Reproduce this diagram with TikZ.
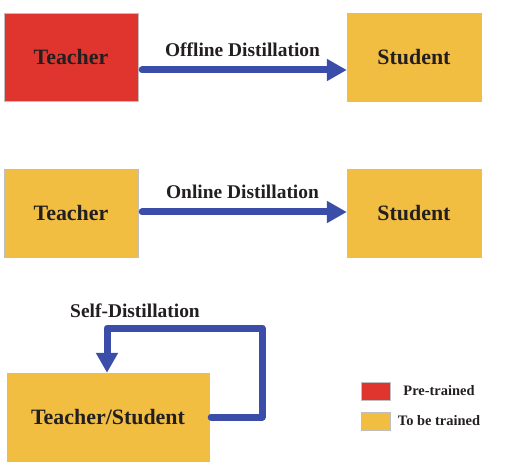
\documentclass[tikz,border=0pt]{standalone}
\usepackage{fontspec}
\setmainfont{Liberation Serif}
\usetikzlibrary{arrows.meta}
\definecolor{pretrained}{HTML}{E0352F}
\definecolor{tobetrained}{HTML}{F2BE42}
\definecolor{distblue}{HTML}{3A4EA9}
\definecolor{inktext}{HTML}{231F20}

\begin{document}
\begin{tikzpicture}[x=1bp,y=-1bp,
    model/.style={draw=black!25, minimum width=134bp, minimum height=88bp, inner sep=0pt,
        text=inktext, font=\fontsize{22}{24}\selectfont\bfseries},
    distarrow/.style={distblue, line width=7bp, line cap=round, line join=round,
        -{Triangle[length=20bp,width=21bp]}},
    distlabel/.style={text=inktext, font=\fontsize{19.5}{22}\selectfont\bfseries, inner sep=0pt},
    legendbox/.style={draw=black!25, minimum width=29bp, minimum height=18bp, inner sep=0pt},
    legendtext/.style={text=inktext, font=\fontsize{14.5}{16}\selectfont\bfseries, inner sep=0pt}]
\useasboundingbox (0,0) rectangle (506,469);
% Offline distillation
    \node[model, fill=pretrained] (t1) at (71,57) {Teacher};
    \node[model, fill=tobetrained] (s1) at (414,57) {Student};
    \draw[distarrow, shorten <=4bp] ([yshift=-13bp]t1.east) -- ([yshift=-13bp]s1.west)
        node[distlabel, midway, above=10bp] (l1) {Offline Distillation};
% Online distillation
    \node[model, fill=tobetrained] (t2) at (71,213) {Teacher};
    \node[model, fill=tobetrained] (s2) at (414,213) {Student};
    \draw[distarrow, shorten <=4bp] ([yshift=1bp]t2.east) -- ([yshift=1bp]s2.west)
        node[distlabel, midway, above=10bp] (l2) {Online Distillation};
% Self distillation
    \node[model, fill=tobetrained, minimum width=202bp] (ts) at (108,417) {Teacher/Student};
    \coordinate (loop) at (262,328);
    \draw[distarrow, shorten <=2bp] (ts.east) -| (loop) -| ([xshift=-1bp]ts.north);
    \node[distlabel] (l3) at (135,311) {Self-Distillation};
% Legend
    \foreach \c/\t/\y [count=\k] in {pretrained/Pre-trained/391, tobetrained/To be trained/421} {
        \node[legendbox, fill=\c] (box\k) at (375.5,\y) {};
        \node[legendtext] (txt\k) at (439,\y) {\t};
    }
\end{tikzpicture}
\end{document}
